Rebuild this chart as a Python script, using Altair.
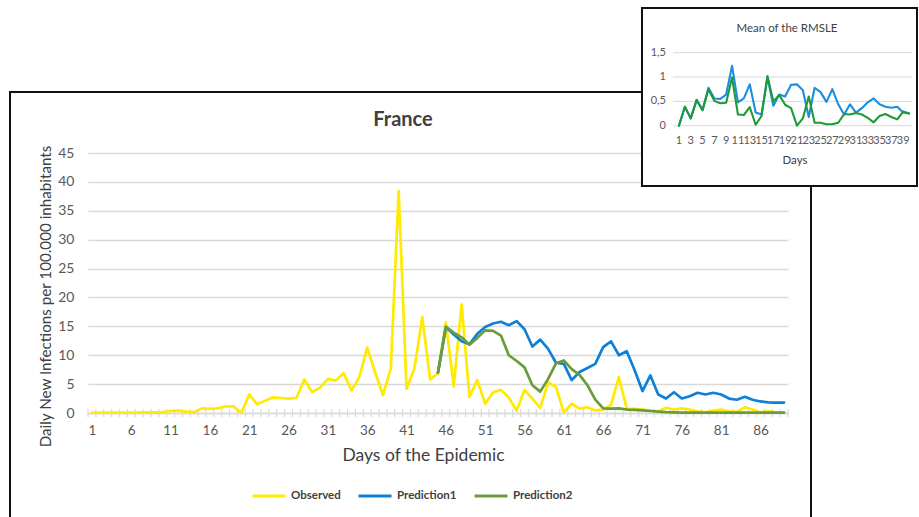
import altair as alt
import pandas as pd

# ---------------- main panel data: France, days 1..89 ----------------
days = list(range(1, 90))
observed = [
    0.05, 0.05, 0.05, 0.05, 0.05, 0.08, 0.05, 0.1, 0.1, 0.15,
    0.35, 0.4, 0.25, 0.15, 0.8, 0.7, 0.8, 1.15, 1.15, 0.0,
    3.2, 1.5, 2.1, 2.7, 2.6, 2.5, 2.6, 5.8, 3.6, 4.4,
    5.9, 5.6, 6.9, 3.9, 6.2, 11.3, 7.1, 3.1, 7.7, 38.4,
    4.2, 7.7, 16.6, 5.8, 6.9, 15.7, 4.6, 18.8, 2.8, 5.7,
    1.6, 3.6, 4.0, 2.7, 0.4, 4.0, 2.5, 0.9, 5.3, 4.5,
    0.1, 1.6, 0.75, 1.0, 0.45, 0.6, 1.4, 6.2, 0.75, 0.7,
    0.6, 0.4, 0.3, 0.9, 0.6, 0.8, 0.6, 0.3, 0.1, 0.4,
    0.6, 0.3, 0.2, 1.0, 0.6, 0.1, 0.3, 0.1, 0.1,
]

prediction_days = list(range(45, 90))
prediction1 = [
    7.0, 14.9, 13.6, 12.4, 11.9, 13.7, 14.9, 15.5, 15.8, 15.2,
    15.9, 14.5, 11.5, 12.7, 11.1, 8.7, 8.5, 5.7, 7.1, 7.8,
    8.5, 11.4, 12.4, 10.0, 10.7, 7.4, 3.8, 6.5, 3.2, 2.5,
    3.6, 2.5, 2.9, 3.5, 3.2, 3.5, 3.2, 2.5, 2.3, 2.8,
    2.3, 2.0, 1.85, 1.8, 1.8,
]
prediction2 = [
    7.0, 14.9, 13.9, 13.1, 11.8, 13.0, 14.3, 14.2, 13.4, 10.0,
    9.0, 7.9, 4.8, 3.7, 5.9, 8.6, 9.1, 7.6, 6.6, 4.8,
    2.3, 0.8, 0.75, 0.8, 0.6, 0.55, 0.45, 0.35, 0.25, 0.15,
    0.1, 0.05, 0.05, 0.05, 0.05, 0.05, 0.05, 0.05, 0.05, 0.05,
    0.05, 0.05, 0.05, 0.05, 0.05,
]

series_names = ["Observed", "Prediction1", "Prediction2"]
series_colors = ["#FFEA00", "#0F80D8", "#6A9C3C"]

x_label_days = [1, 6, 11, 16, 21, 26, 31, 36, 41, 46, 51, 56, 61, 66, 71, 76, 81, 86]
y_ticks = [0, 5, 10, 15, 20, 25, 30, 35, 40, 45]

# ---------------- inset data: mean of the RMSLE, days 1..40 ----------------
rmsle_days = list(range(1, 41))
rmsle_pred1 = [
    0.0, 0.39, 0.15, 0.53, 0.32, 0.78, 0.56, 0.55, 0.64, 1.23,
    0.48, 0.56, 0.85, 0.27, 0.23, 0.99, 0.41, 0.64, 0.6, 0.84,
    0.85, 0.73, 0.18, 0.78, 0.69, 0.49, 0.75, 0.44, 0.23, 0.44,
    0.27, 0.36, 0.48, 0.56, 0.44, 0.39, 0.37, 0.39, 0.27, 0.25,
]
rmsle_pred2 = [
    0.0, 0.39, 0.15, 0.53, 0.32, 0.75, 0.51, 0.46, 0.47, 0.99,
    0.23, 0.22, 0.38, 0.02, 0.2, 1.02, 0.5, 0.63, 0.43, 0.36,
    0.0, 0.15, 0.6, 0.06, 0.06, 0.03, 0.03, 0.06, 0.24, 0.23,
    0.26, 0.23, 0.16, 0.07, 0.2, 0.24, 0.18, 0.13, 0.29, 0.25,
]
rmsle_names = ["Prediction1", "Prediction2"]
rmsle_colors = ["#1C8EE0", "#1E9A3A"]
rmsle_x_labels = list(range(1, 41, 2))
rmsle_y_ticks = [0, 0.5, 1, 1.5]

# ---------------- tables ----------------
rows = [{"day": d, "value": v, "series": "Observed"} for d, v in zip(days, observed)]
rows += [{"day": d, "value": v, "series": "Prediction1"} for d, v in zip(prediction_days, prediction1)]
rows += [{"day": d, "value": v, "series": "Prediction2"} for d, v in zip(prediction_days, prediction2)]
main_df = pd.DataFrame(rows)

# category boundaries for the small tick marks along the day axis
bounds_df = pd.DataFrame({"day": [d - 0.5 for d in days] + [days[-1] + 0.5]})

inset_rows = [{"day": d, "rmsle": v, "series": "Prediction1"} for d, v in zip(rmsle_days, rmsle_pred1)]
inset_rows += [{"day": d, "rmsle": v, "series": "Prediction2"} for d, v in zip(rmsle_days, rmsle_pred2)]
inset_df = pd.DataFrame(inset_rows)
inset_y_df = pd.DataFrame({"v": rmsle_y_ticks,
                           "label": [f"{v:g}".replace(".", ",") for v in rmsle_y_ticks]})
inset_x_df = pd.DataFrame({"day": rmsle_x_labels, "label": [str(d) for d in rmsle_x_labels]})

one = pd.DataFrame({"t": [""]})

FONT = "Lato"
GRID = "#D9D9D9"
TXT = "#595959"

# plot area of the main chart: 700 x 260 px, origin at (88, 153)
W, H = 700, 260
OX, OY = 88, 153

x_main = alt.Scale(domain=[0.5, 89.5], nice=False, zero=False)
y_main = alt.Scale(domain=[0, 45], nice=False, zero=True)

x_axis = alt.Axis(
    values=x_label_days, title="Days of the Epidemic", grid=False, ticks=False,
    domainColor=GRID, domainWidth=1.3, labelFontSize=13.5, labelColor=TXT,
    labelPadding=10, labelFont=FONT, titleFont=FONT, titleFontSize=17.5,
    titleFontWeight="normal", titleColor="#404040",
    titleX=423 - OX, titleY=455 - (OY + H), titleBaseline="middle", titleAlign="center",
)
y_axis = alt.Axis(
    values=y_ticks, title="Daily New Infections per 100.000 inhabitants",
    domain=False, ticks=False, gridColor=GRID, gridWidth=1.3,
    labelFontSize=14, labelColor=TXT, labelPadding=14, labelFont=FONT,
    titleFont=FONT, titleFontSize=15.2, titleFontWeight="normal", titleColor="#404040",
    titleX=45 - OX, titleY=296 - OY, titleBaseline="middle", titleAlign="center",
)

main_box = alt.Chart(one).mark_rect(
    fill="white", fillOpacity=0, stroke="#111111", strokeWidth=2
).encode(
    x=alt.value(10 - OX), x2=alt.value(811 - OX),
    y=alt.value(92 - OY), y2=alt.value(540 - OY),
)

main_title = alt.Chart(pd.DataFrame({"t": ["France"]})).mark_text(
    align="center", baseline="middle", font=FONT, fontSize=20, fontWeight="bold",
    color="#404040"
).encode(x=alt.value(403 - OX), y=alt.value(120 - OY), text="t:N")

lines = alt.Chart(main_df).mark_line(
    strokeWidth=2.7, strokeJoin="round", strokeCap="round"
).encode(
    x=alt.X("day:Q", scale=x_main, axis=x_axis),
    y=alt.Y("value:Q", scale=y_main, axis=y_axis),
    color=alt.Color("series:N", scale=alt.Scale(domain=series_names, range=series_colors),
                    legend=alt.Legend(
                        title=None, orient="none", direction="horizontal",
                        legendX=251 - OX, legendY=478 - OY,
                        symbolType="stroke", symbolSize=1089, symbolStrokeWidth=3,
                        labelFont=FONT, labelFontSize=11.5, labelFontWeight="bold",
                        labelColor="#404040", labelOffset=4, columnPadding=11,
                    )),
)

ticks = alt.Chart(bounds_df).mark_rule(color=GRID, strokeWidth=1.2).encode(
    x=alt.X("day:Q", scale=x_main, axis=x_axis),
    y=alt.value(H - 4), y2=alt.value(H + 4),
)

main = alt.layer(main_box, main_title, ticks, lines)

# ---------------- inset: Mean of the RMSLE ----------------
x_in = alt.Scale(domain=[0.5, 40.5], range=[676 - OX, 912 - OX], nice=False, zero=False)
y_in = alt.Scale(domain=[0, 1.5], range=[125.7 - OY, 52.7 - OY], nice=False, zero=True)

inset_box = alt.Chart(one).mark_rect(fill="white", stroke="#111111", strokeWidth=2).encode(
    x=alt.value(642 - OX), x2=alt.value(917 - OX),
    y=alt.value(8 - OY), y2=alt.value(186 - OY),
)

inset_grid = alt.Chart(inset_y_df).mark_rule(color=GRID, strokeWidth=1).encode(
    y=alt.Y("v:Q", scale=y_in, axis=None),
    x=alt.value(673 - OX), x2=alt.value(912 - OX),
)

inset_ylabels = alt.Chart(inset_y_df).mark_text(
    align="right", baseline="middle", font=FONT, fontSize=11, color=TXT
).encode(
    y=alt.Y("v:Q", scale=y_in, axis=None),
    x=alt.value(666 - OX),
    text="label:N",
)

inset_xlabels = alt.Chart(inset_x_df).mark_text(
    align="center", baseline="middle", font=FONT, fontSize=11, color=TXT
).encode(
    x=alt.X("day:Q", scale=x_in, axis=None),
    y=alt.value(141 - OY),
    text="label:N",
)

inset_lines = alt.Chart(inset_df).mark_line(
    strokeWidth=2.1, strokeJoin="round", strokeCap="round"
).encode(
    x=alt.X("day:Q", scale=x_in, axis=None),
    y=alt.Y("rmsle:Q", scale=y_in, axis=None),
    color=alt.Color("series:N", scale=alt.Scale(domain=rmsle_names, range=rmsle_colors),
                    legend=None),
)

inset_title = alt.Chart(pd.DataFrame({"t": ["Mean of the RMSLE"]})).mark_text(
    align="center", baseline="middle", font=FONT, fontSize=11.5, color="#404040"
).encode(x=alt.value(787 - OX), y=alt.value(29 - OY), text="t:N")

inset_xtitle = alt.Chart(pd.DataFrame({"t": ["Days"]})).mark_text(
    align="center", baseline="middle", font=FONT, fontSize=11.5, color="#404040"
).encode(x=alt.value(795 - OX), y=alt.value(161 - OY), text="t:N")

inset = alt.layer(inset_box, inset_grid, inset_ylabels, inset_xlabels,
                  inset_lines, inset_title, inset_xtitle)

chart = alt.layer(main, inset).resolve_scale(
    x="independent", y="independent", color="independent"
).properties(
    width=W, height=H,
    padding={"left": OX, "top": OY, "right": 919 - OX - W, "bottom": 517 - OY - H},
    autosize=alt.AutoSizeParams(type="none"),
    background="white",
).configure_view(stroke=None)

chart.save("out.html", embed_options={"renderer": "svg", "actions": False})
